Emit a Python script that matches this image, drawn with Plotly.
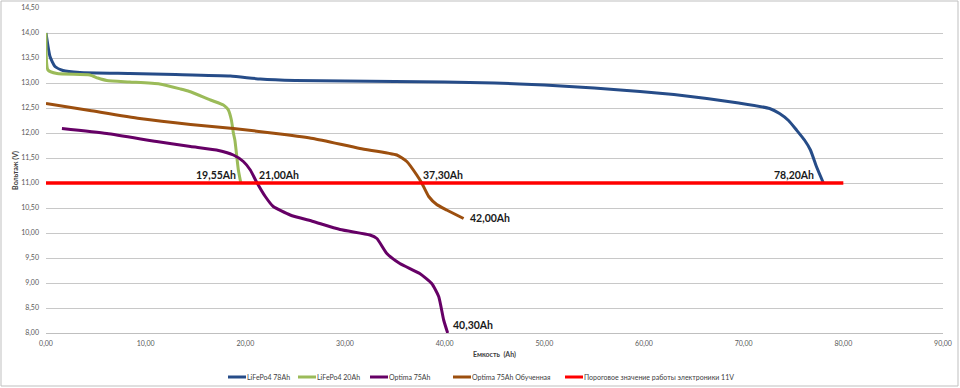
import plotly.graph_objects as go

# ---- data ----
lfp78_x = [0, 0.4, 0.9, 1.7, 3.4, 8.4, 13, 18.5, 21.5, 25, 30, 35, 40, 45, 50, 55, 59.6, 63, 66.3, 69.5, 72.6, 73.6, 74.5, 75.3, 76.1, 76.7, 77.3, 78.0]
lfp78_y = [14.0, 13.53, 13.33, 13.25, 13.21, 13.19, 13.17, 13.14, 13.08, 13.05, 13.04, 13.03, 13.02, 13.0, 12.96, 12.9, 12.83, 12.77, 12.69, 12.6, 12.49, 12.39, 12.25, 12.06, 11.86, 11.66, 11.33, 11.0]

lfp20_x = [0, 0.2, 1.1, 4.4, 5.2, 6.1, 8.4, 11.4, 13.5, 14.4, 16.5, 17.8, 18.1, 18.3, 18.6, 18.8, 18.95, 19.3, 19.55]
lfp20_y = [14.0, 13.26, 13.19, 13.16, 13.1, 13.05, 13.02, 12.98, 12.88, 12.83, 12.66, 12.56, 12.51, 12.46, 12.26, 12.0, 11.86, 11.26, 11.0]

opt_x = [1.6, 6.1, 11.1, 14.5, 17.1, 18.8, 19.8, 20.5, 21.1, 22.0, 22.8, 24.5, 26.8, 29.5, 32.5, 33.2, 34.2, 35.5, 37.5, 38.7, 39.4, 39.9, 40.3]
opt_y = [12.09, 11.99, 11.83, 11.73, 11.66, 11.56, 11.43, 11.26, 11.03, 10.73, 10.53, 10.36, 10.23, 10.07, 9.96, 9.89, 9.59, 9.39, 9.19, 8.99, 8.73, 8.26, 8.0]

optt_x = [0, 4.4, 9.4, 14.5, 18.8, 23.5, 26.8, 31.5, 35.2, 36.2, 37.2, 37.7, 38.4, 39.2, 40.2, 41.9]
optt_y = [12.59, 12.45, 12.29, 12.17, 12.09, 11.98, 11.89, 11.69, 11.56, 11.43, 11.16, 11.0, 10.73, 10.57, 10.46, 10.29]

thr_x = [0, 80]
thr_y = [11, 11]

series_names = ["LiFePo4 78Ah", "LiFePo4 20Ah", "Optima 75Ah", "Optima 75Ah Обученная",
                "Пороговое значение работы электроники 11V"]

label_text = ["19,55Ah", "21,00Ah", "37,30Ah", "78,20Ah", "42,00Ah", "40,30Ah"]
label_x = [19.55, 21.0, 37.3, 78.2, 42.0, 40.3]
label_y = [11.0, 11.0, 11.0, 11.0, 10.3, 8.0]

y_ticks = [8.0, 8.5, 9.0, 9.5, 10.0, 10.5, 11.0, 11.5, 12.0, 12.5, 13.0, 13.5, 14.0, 14.5]
x_ticks = [0, 10, 20, 30, 40, 50, 60, 70, 80, 90]

FONT = "Lato"
colors = ["#264C88", "#9BBB59", "#660066", "#9C4F0F", "#FF0000"]

# layout geometry (pixels)
W, H = 960, 388
L, R, T, B = 46, 17, 8, 55
PW, PH = W - L - R, H - T - B


def px_x(p):
    return (p - L) / PW


def px_y(p):
    return (H - B - p) / PH


fig = go.Figure()
data = [(lfp78_x, lfp78_y), (lfp20_x, lfp20_y), (opt_x, opt_y), (optt_x, optt_y), (thr_x, thr_y)]
for i, ((xs, ys), name) in enumerate(zip(data, series_names)):
    fig.add_trace(go.Scatter(
        x=xs, y=ys, name=name, mode="lines", showlegend=False,
        line=dict(color=colors[i], width=3.5 if i == 4 else 3,
                  shape="spline" if i < 4 else "linear", smoothing=0.5),
        hoverinfo="skip"))

# value labels
anchors = [("right", "bottom", -3, 0), ("left", "bottom", 2, 0), ("left", "bottom", 3, 0),
           ("right", "bottom", -9, 0), ("left", "middle", 3, 0), ("left", "bottom", 3, 0)]
for t, x, y, (xa, ya, xs, ys) in zip(label_text, label_x, label_y, anchors):
    fig.add_annotation(x=x, y=y, text="<b>%s</b>" % t, showarrow=False,
                       xanchor=xa, yanchor=ya, xshift=xs, yshift=ys,
                       font=dict(family=FONT, size=10.5, color="#1a1a1a"))

# legend (Excel-style: short line sample followed by the series name)
legend_px = [228, 298, 370, 453, 565]
legend_y = px_y(377)
for name, c, lx in zip(series_names, colors, legend_px):
    fig.add_shape(type="line", xref="paper", yref="paper",
                  x0=px_x(lx), x1=px_x(lx + 18), y0=legend_y, y1=legend_y,
                  line=dict(color=c, width=3))
    fig.add_annotation(xref="paper", yref="paper", x=px_x(lx + 18), y=legend_y,
                       text=name, showarrow=False, xanchor="left", yanchor="middle",
                       borderpad=0, font=dict(family=FONT, size=7, color="#404040"))

# outer chart border
fig.add_shape(type="rect", xref="paper", yref="paper",
              x0=px_x(1), x1=px_x(958), y0=px_y(386), y1=px_y(1),
              line=dict(color="#BFBFBF", width=1), fillcolor="rgba(0,0,0,0)", layer="below")

fig.update_layout(
    width=W, height=H,
    margin=dict(l=L, r=R, t=T, b=B, autoexpand=False),
    paper_bgcolor="white", plot_bgcolor="white",
    separators=", ",
    font=dict(family=FONT, size=7, color="#595959"),
    showlegend=False,
    xaxis=dict(range=[0, 90], tickvals=x_ticks, tickformat=".2f", showgrid=False,
               zeroline=False, showline=True, linecolor="#BFBFBF", linewidth=1,
               ticks="", ticklabelstandoff=4, automargin=False,
               title=dict(text="<b>Емкость  (Ah)</b>", font=dict(family=FONT, size=7, color="#404040"),
                          standoff=4)),
    yaxis=dict(range=[8, 14.5], tickvals=y_ticks, tickformat=".2f", showgrid=True,
               gridcolor="#C8C8C8", gridwidth=1, zeroline=False, showline=False,
               ticks="", ticklabelstandoff=6, automargin=False,
               title=dict(text="<b>Вольтаж (V)</b>", font=dict(family=FONT, size=7, color="#404040"),
                          standoff=1)),
)

fig.write_html("out.html", config={"displayModeBar": False},
               post_script="document.body.style.margin='0';document.body.style.overflow='hidden';")
